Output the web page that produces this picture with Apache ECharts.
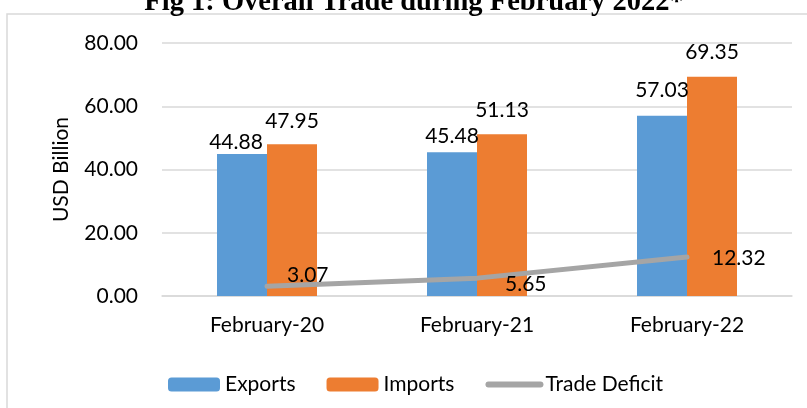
<!DOCTYPE html>
<html>
<head>
<meta charset="utf-8">
<style>
  html, body { margin: 0; padding: 0; background: #fff; }
  #chart { width: 807px; height: 408px; }
</style>
<script src="https://cdn.jsdelivr.net/npm/echarts@6/dist/echarts.min.js"></script>
</head>
<body>
<div id="chart"></div>
<script>
// chart data
const categories = ['February-20', 'February-21', 'February-22']
const exportsData = [44.88, 45.48, 57.03]
const importsData = [47.95, 51.13, 69.35]
const deficitData = [3.07, 5.65, 12.32]
const yTicks = [0, 20, 40, 60, 80]

// label placement, tuned to the picture
const exportLabelGap = [1, 5, 15]
const importLabelGap = [13, 14, 14]
const deficitLabelPos = [[21, -10], [29, 7], [26, 2]]

const font = 'Lato, "Open Sans", sans-serif'
const chart = echarts.init(document.getElementById('chart'))

chart.setOption({
    animation: false,
    textStyle: { fontFamily: font },
    graphic: [
        {
            type: 'rect',
            shape: { x: 7, y: 14, width: 820, height: 420 },
            style: { fill: 'none', stroke: '#D9D9D9', lineWidth: 1.5 },
            z: -1
        },
        {
            type: 'text',
            x: 414, y: 17,
            style: {
                text: 'Fig 1: Overall Trade during February 2022*',
                font: 'bold 28.5px "Liberation Serif", "Times New Roman", serif',
                fill: '#000',
                align: 'center',
                verticalAlign: 'bottom'
            }
        }
    ],
    grid: { left: 162, right: 15, top: 43, bottom: 112 },
    legend: {
        left: 163, top: 369,
        itemWidth: 52, itemHeight: 14, itemGap: 31,
        textStyle: { fontFamily: font, fontSize: 21, color: '#000' },
        data: [
            'Exports',
            'Imports',
            { name: 'Trade Deficit', itemStyle: { color: 'transparent' } }
        ],
        lineStyle: { width: 6, cap: 'round' }
    },
    xAxis: {
        type: 'category',
        data: categories,
        axisTick: { show: false },
        axisLine: { lineStyle: { color: '#D9D9D9', width: 1.5 } },
        axisLabel: { fontFamily: font, fontSize: 21, color: '#000', margin: 19 }
    },
    yAxis: {
        type: 'value',
        min: yTicks[0], max: yTicks[yTicks.length - 1], interval: 20,
        name: 'USD Billion',
        nameLocation: 'middle',
        nameGap: 90,
        nameTextStyle: { fontFamily: font, fontSize: 21, color: '#000' },
        axisLabel: {
            fontFamily: font, fontSize: 21, color: '#000', margin: 24,
            formatter: v => v.toFixed(2)
        },
        splitLine: { lineStyle: { color: '#D9D9D9', width: 1.5 } }
    },
    series: [
        {
            name: 'Exports',
            type: 'bar',
            barWidth: 50,
            barGap: '0%',
            itemStyle: { color: '#5B9BD5' },
            data: exportsData.map((v, i) => ({
                value: v,
                label: { distance: exportLabelGap[i], offset: i === 0 ? [-6, 0] : [0, 0] }
            })),
            label: {
                show: true, position: 'top',
                fontFamily: font, fontSize: 21, color: '#000',
                formatter: p => p.value.toFixed(2)
            }
        },
        {
            name: 'Imports',
            type: 'bar',
            barWidth: 50,
            barGap: '0%',
            itemStyle: { color: '#ED7D31' },
            data: importsData.map((v, i) => ({
                value: v,
                label: { distance: importLabelGap[i] }
            })),
            label: {
                show: true, position: 'top',
                fontFamily: font, fontSize: 21, color: '#000',
                formatter: p => p.value.toFixed(2)
            }
        },
        {
            name: 'Trade Deficit',
            type: 'line',
            symbol: 'circle',
            symbolSize: 2,
            showSymbol: true,
            z: 5,
            color: '#A5A5A5',
            lineStyle: { color: '#A5A5A5', width: 5, cap: 'round' },
            itemStyle: { color: 'rgba(165,165,165,0)' },
            data: deficitData.map((v, i) => ({
                value: v,
                label: { position: deficitLabelPos[i] }
            })),
            label: {
                show: true,
                align: 'left', verticalAlign: 'middle',
                fontFamily: font, fontSize: 21, color: '#000',
                formatter: p => p.value.toFixed(2)
            },
            labelLayout: { hideOverlap: false }
        }
    ]
})
</script>
</body>
</html>
